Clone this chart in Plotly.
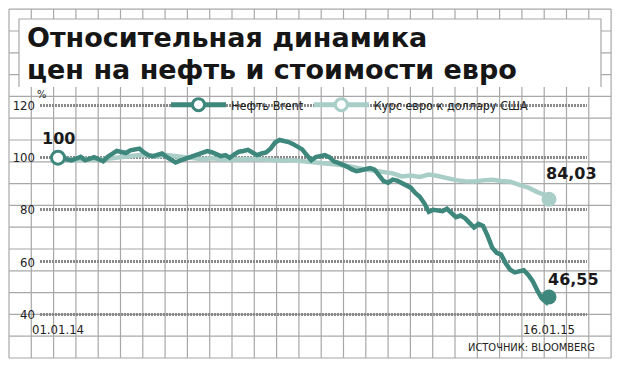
import plotly.graph_objects as go
import pandas as pd

# ---------------- data ----------------
brent_dates = list(pd.date_range("2014-01-01", periods=109, freq="84h")) + [pd.Timestamp("2015-01-16")]
euro_dates = list(pd.date_range("2014-01-01", periods=55, freq="7D")) + [pd.Timestamp("2015-01-16")]

brent = [100.0, 100.4, 99.3, 99.0, 99.6, 100.3, 99.0, 99.6, 100.2, 99.4,
         98.6, 100.4, 101.5, 102.6, 102.2, 101.8, 102.8, 103.2, 103.5, 102.0,
         101.0, 100.6, 101.2, 101.6, 100.3, 99.4, 98.2, 98.9, 99.5, 100.4,
         101.0, 101.3, 101.8, 102.5, 102.1, 101.5, 100.6, 101.0, 100.0, 101.3,
         102.3, 102.6, 103.0, 102.0, 101.0, 101.6, 102.0, 103.5, 105.8, 106.8,
         106.5, 106.0, 105.2, 104.2, 103.2, 101.0, 99.0, 100.2, 100.5, 101.0,
         100.2, 98.6, 98.0, 97.4, 96.5, 95.5, 94.8, 95.2, 95.6, 96.0,
         95.4, 93.0, 91.0, 90.4, 91.6, 91.2, 90.3, 89.0, 88.5, 86.5,
         85.0, 82.5, 79.2, 80.0, 79.9, 79.5, 80.4, 78.5, 77.2, 77.8,
         76.8, 75.0, 73.2, 74.6, 73.8, 70.0, 65.5, 63.5, 62.8, 59.5,
         57.0, 56.0, 56.6, 56.8, 55.0, 52.5, 49.0, 46.0, 44.5, 46.55]

euro = [100.0, 99.4, 99.0, 99.6, 99.2, 99.4, 99.8, 100.4, 100.6, 101.0,
        100.8, 100.5, 101.0, 100.5, 100.0, 99.6, 99.4, 99.8, 99.3, 99.1,
        99.4, 99.6, 99.5, 99.3, 99.0, 98.8, 99.0, 98.7, 98.5, 98.2,
        97.8, 97.3, 96.8, 96.0, 95.5, 95.0, 94.3, 94.0, 92.8, 93.2,
        92.6, 93.5, 93.0, 92.0, 91.4, 91.0, 90.9, 91.3, 91.5, 91.1,
        90.8, 89.6, 88.5, 86.8, 85.5, 84.03]

names = ["Нефть Brent", "Курс евро к доллару США"]
y_ticks = [40, 60, 80, 100, 120]
x_tick_labels = ["01.01.14", "16.01.15"]
title_lines = ["Относительная динамика", "цен на нефть и стоимости евро"]
source = "ИСТОЧНИК: BLOOMBERG"

# ---------------- style ----------------
W, H = 621, 368
L, R, T, B = 40, 587, 100, 320       # plot area in pixels
C_BRENT = "#3e877c"
C_EURO = "#a9cec7"
GRID = "#a8a8a8"
NARROW = "Liberation Sans Narrow, DejaVu Sans Condensed, Roboto, sans-serif"

def px(x):
    return (x - L) / (R - L)

def py(y):
    return (B - y) / (B - T)

fig = go.Figure()

fig.add_trace(go.Scatter(x=euro_dates, y=euro, mode="lines", line=dict(color=C_EURO, width=4.5),
                         showlegend=False, hoverinfo="skip"))
fig.add_trace(go.Scatter(x=brent_dates, y=brent, mode="lines", line=dict(color=C_BRENT, width=4.5),
                         showlegend=False, hoverinfo="skip"))
fig.add_trace(go.Scatter(x=[euro_dates[-1]], y=[euro[-1]], mode="markers",
                         marker=dict(color=C_EURO, size=15), showlegend=False, hoverinfo="skip"))
fig.add_trace(go.Scatter(x=[brent_dates[-1]], y=[brent[-1]], mode="markers",
                         marker=dict(color=C_BRENT, size=15), showlegend=False, hoverinfo="skip"))
fig.add_trace(go.Scatter(x=[brent_dates[0]], y=[brent[0]], mode="markers",
                         marker=dict(color="white", size=13, line=dict(color=C_BRENT, width=3)),
                         showlegend=False, hoverinfo="skip"))
fig.add_trace(go.Scatter(x=[None], y=[None], mode="lines+markers", name=names[0],
                         line=dict(color=C_BRENT, width=5),
                         marker=dict(color="white", size=12, line=dict(color=C_BRENT, width=3))))
fig.add_trace(go.Scatter(x=[None], y=[None], mode="lines+markers", name=names[1],
                         line=dict(color=C_EURO, width=5),
                         marker=dict(color="white", size=12, line=dict(color=C_EURO, width=3))))

# ---------------- background graph paper ----------------
shapes = []
for i in range(28):
    xp = 9 + 22.3 * i
    shapes.append(dict(type="line", xref="paper", yref="paper", x0=px(xp), x1=px(xp),
                       y0=py(9), y1=py(358), line=dict(color=GRID, width=1.2), layer="below"))
for j in range(17):
    yp = 9.2 + 21.8 * j
    shapes.append(dict(type="line", xref="paper", yref="paper", x0=px(9), x1=px(611),
                       y0=py(yp), y1=py(yp), line=dict(color=GRID, width=1.2), layer="below"))
shapes.append(dict(type="rect", xref="paper", yref="paper", x0=px(19), x1=px(601),
                   y0=py(87), y1=py(19), fillcolor="white", line=dict(width=0), layer="below"))
shapes.append(dict(type="path", xref="paper", yref="paper",
                   path=f"M{px(19)},{py(87)} L{px(19)},{py(19)} L{px(601)},{py(19)} L{px(601)},{py(87)}",
                   line=dict(color=GRID, width=1.2), layer="below"))

# ---------------- axes ----------------
d0 = euro_dates[0]
ppd = (549 - 58) / (euro_dates[-1] - d0).days
x_lo = d0 + pd.Timedelta(days=(L - 58) / ppd)
x_hi = d0 + pd.Timedelta(days=(R - 58) / ppd)
ppv = (314 - 105.5) / 80.0
y_lo = 100 - (B - 157.7) / ppv
y_hi = 100 - (T - 157.7) / ppv

fig.update_xaxes(range=[x_lo, x_hi], showgrid=False, zeroline=False, showline=False,
                 tickvals=[euro_dates[0], euro_dates[-1]], ticktext=x_tick_labels, ticks="",
                 tickfont=dict(family=NARROW, size=13, color="#222"))
fig.update_yaxes(range=[y_lo, y_hi], tickvals=y_ticks, showgrid=True, gridcolor="#8a8a8a",
                 gridwidth=2.5, griddash="2px,1px", zeroline=False, showline=False, ticks="",
                 ticklabelstandoff=4, tickfont=dict(family=NARROW, size=13, color="#222"))

TITLE_FONT = dict(family="DejaVu Sans, Liberation Sans, sans-serif", size=27, color="#161616", weight="bold")
ann = []
ann.append(dict(text=title_lines[0], xref="paper", yref="paper", x=px(25), y=py(55),
                xanchor="left", yanchor="bottom", showarrow=False, font=TITLE_FONT))
ann.append(dict(text=title_lines[1], xref="paper", yref="paper", x=px(25), y=py(87),
                xanchor="left", yanchor="bottom", showarrow=False, font=TITLE_FONT))
ann.append(dict(text="%", xref="paper", yref="paper", x=px(41), y=py(94.5),
                xanchor="center", yanchor="middle", showarrow=False,
                font=dict(family=NARROW, size=11, color="#222")))
ann.append(dict(text="<b>100</b>", x=euro_dates[0], y=brent[0], xanchor="center", yanchor="bottom",
                yshift=8, showarrow=False, font=dict(family="DejaVu Sans", size=16, color="#1a1a1a")))
ann.append(dict(text="<b>84,03</b>", x=euro_dates[-1], y=euro[-1], xanchor="left", xshift=-5,
                yanchor="middle", yshift=26, showarrow=False,
                font=dict(family="DejaVu Sans", size=16, color="#1a1a1a")))
ann.append(dict(text="<b>46,55</b>", x=brent_dates[-1], y=brent[-1], xanchor="left", xshift=-3,
                yanchor="middle", yshift=18, showarrow=False,
                font=dict(family="DejaVu Sans", size=16, color="#1a1a1a")))
ann.append(dict(text=source, xref="paper", yref="paper", x=px(597), y=py(347), xanchor="right",
                yanchor="middle", showarrow=False, font=dict(family=NARROW, size=11, color="#222")))

fig.update_layout(
    width=W, height=H, margin=dict(l=L, r=W - R, t=T, b=H - B),
    paper_bgcolor="white", plot_bgcolor="rgba(0,0,0,0)",
    shapes=shapes, annotations=ann,
    legend=dict(orientation="h", x=px(166), xanchor="left", y=py(105), yanchor="middle",
                bgcolor="rgba(0,0,0,0)", itemwidth=55,
                font=dict(family=NARROW, size=12.5, color="#222")),
)

fig.write_html("out.html")
